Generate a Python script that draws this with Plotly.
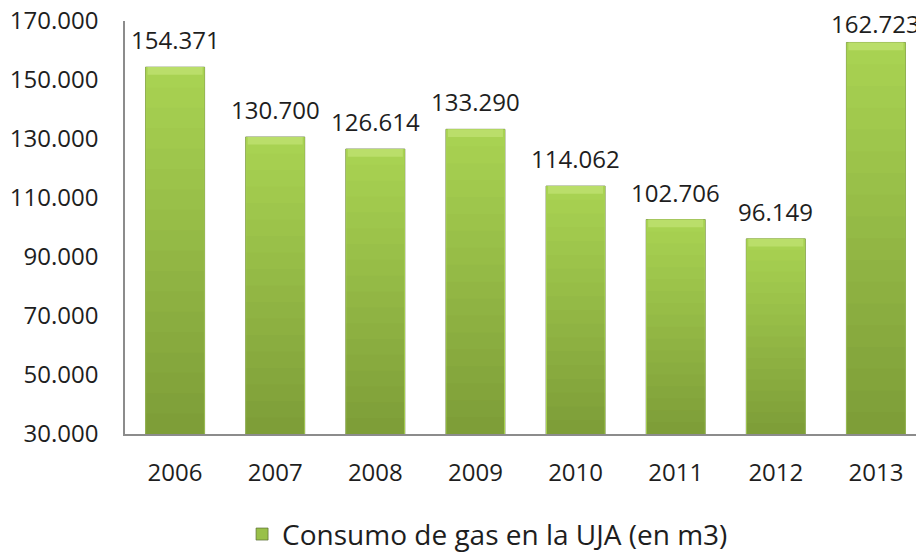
import plotly.graph_objects as go

years = ["2006", "2007", "2008", "2009", "2010", "2011", "2012", "2013"]
consumo = [154371, 130700, 126614, 133290, 114062, 102706, 96149, 162723]
y_ticks = [30000, 50000, 70000, 90000, 110000, 130000, 150000, 170000]
series_name = "Consumo de gas en la UJA (en m3)"

FONT = "Open Sans"
BASE = 30000
TOP_COLOR = (168, 210, 82)
BOT_COLOR = (126, 158, 56)
N = 18
LABEL_SHIFTS = [9, 9, 9, 9, 9, 9, 9, 0]  # last label pushed down to fit inside chart, as in the original


def fmt(v):
    return f"{v:,}".replace(",", ".")


def mix(a, b, t):
    return "rgb(%d,%d,%d)" % tuple(round(a[i] + (b[i] - a[i]) * t) for i in range(3))


fig = go.Figure()

# main bar (legend entry)
fig.add_trace(go.Bar(
    x=years, y=[v - BASE for v in consumo], base=BASE,
    name=series_name, width=0.59,
    marker=dict(color=mix(TOP_COLOR, BOT_COLOR, 0.35), line=dict(color="rgba(90,110,50,0.7)", width=1)),
    showlegend=True,
))
# gradient layers (lighter at top, darker at bottom)
for k in range(N):
    frac = 1 - k / N
    fig.add_trace(go.Bar(
        x=years, y=[(v - BASE) * frac for v in consumo], base=BASE,
        width=0.57 if k else 0.59,
        marker=dict(color=mix(TOP_COLOR, BOT_COLOR, k / (N - 1)), line=dict(width=0)),
        showlegend=False, hoverinfo="skip",
    ))
# top bevel highlight
fig.add_trace(go.Bar(
    x=years, y=[2600] * len(years), base=[v - 2600 for v in consumo],
    width=0.55, marker=dict(color="rgb(186,222,106)", line=dict(width=0)),
    showlegend=False, hoverinfo="skip",
))

for i, v in enumerate(consumo):
    fig.add_annotation(
        x=i, y=v, xref="x", yref="y", text=fmt(v), showarrow=False,
        yanchor="bottom", yshift=LABEL_SHIFTS[i],
        font=dict(family=FONT, size=24, color="#1e1e1e"),
    )

fig.update_layout(
    width=916, height=553,
    margin=dict(l=125, r=0, t=21, b=119, autoexpand=False),
    paper_bgcolor="white", plot_bgcolor="white",
    barmode="overlay", separators=",.",
    font=dict(family=FONT, size=24, color="#1e1e1e"),
    showlegend=True,
    legend=dict(
        orientation="h", x=0.148, xanchor="left", y=-0.243, yanchor="middle",
        font=dict(family=FONT, size=28, color="#1e1e1e"), itemwidth=30,
        bgcolor="rgba(0,0,0,0)",
    ),
)
fig.update_xaxes(
    type="category", range=[-0.5, 7.4], showline=True, linecolor="#8c8c8c", linewidth=1.5,
    showgrid=False, ticks="", ticklabelstandoff=16, automargin=False,
    tickfont=dict(family=FONT, size=24, color="#1e1e1e"),
)
fig.update_yaxes(
    range=[BASE, 170000], tickvals=y_ticks, ticktext=[fmt(t) for t in y_ticks],
    showline=True, linecolor="#8c8c8c", linewidth=1.5, showgrid=False, zeroline=False,
    ticks="", ticklabelstandoff=20, automargin=False,
    tickfont=dict(family=FONT, size=24, color="#1e1e1e"),
)

fig.write_html(
    "out.html",
    config={"displayModeBar": False},
    post_script="document.body.style.margin='0';",
)
